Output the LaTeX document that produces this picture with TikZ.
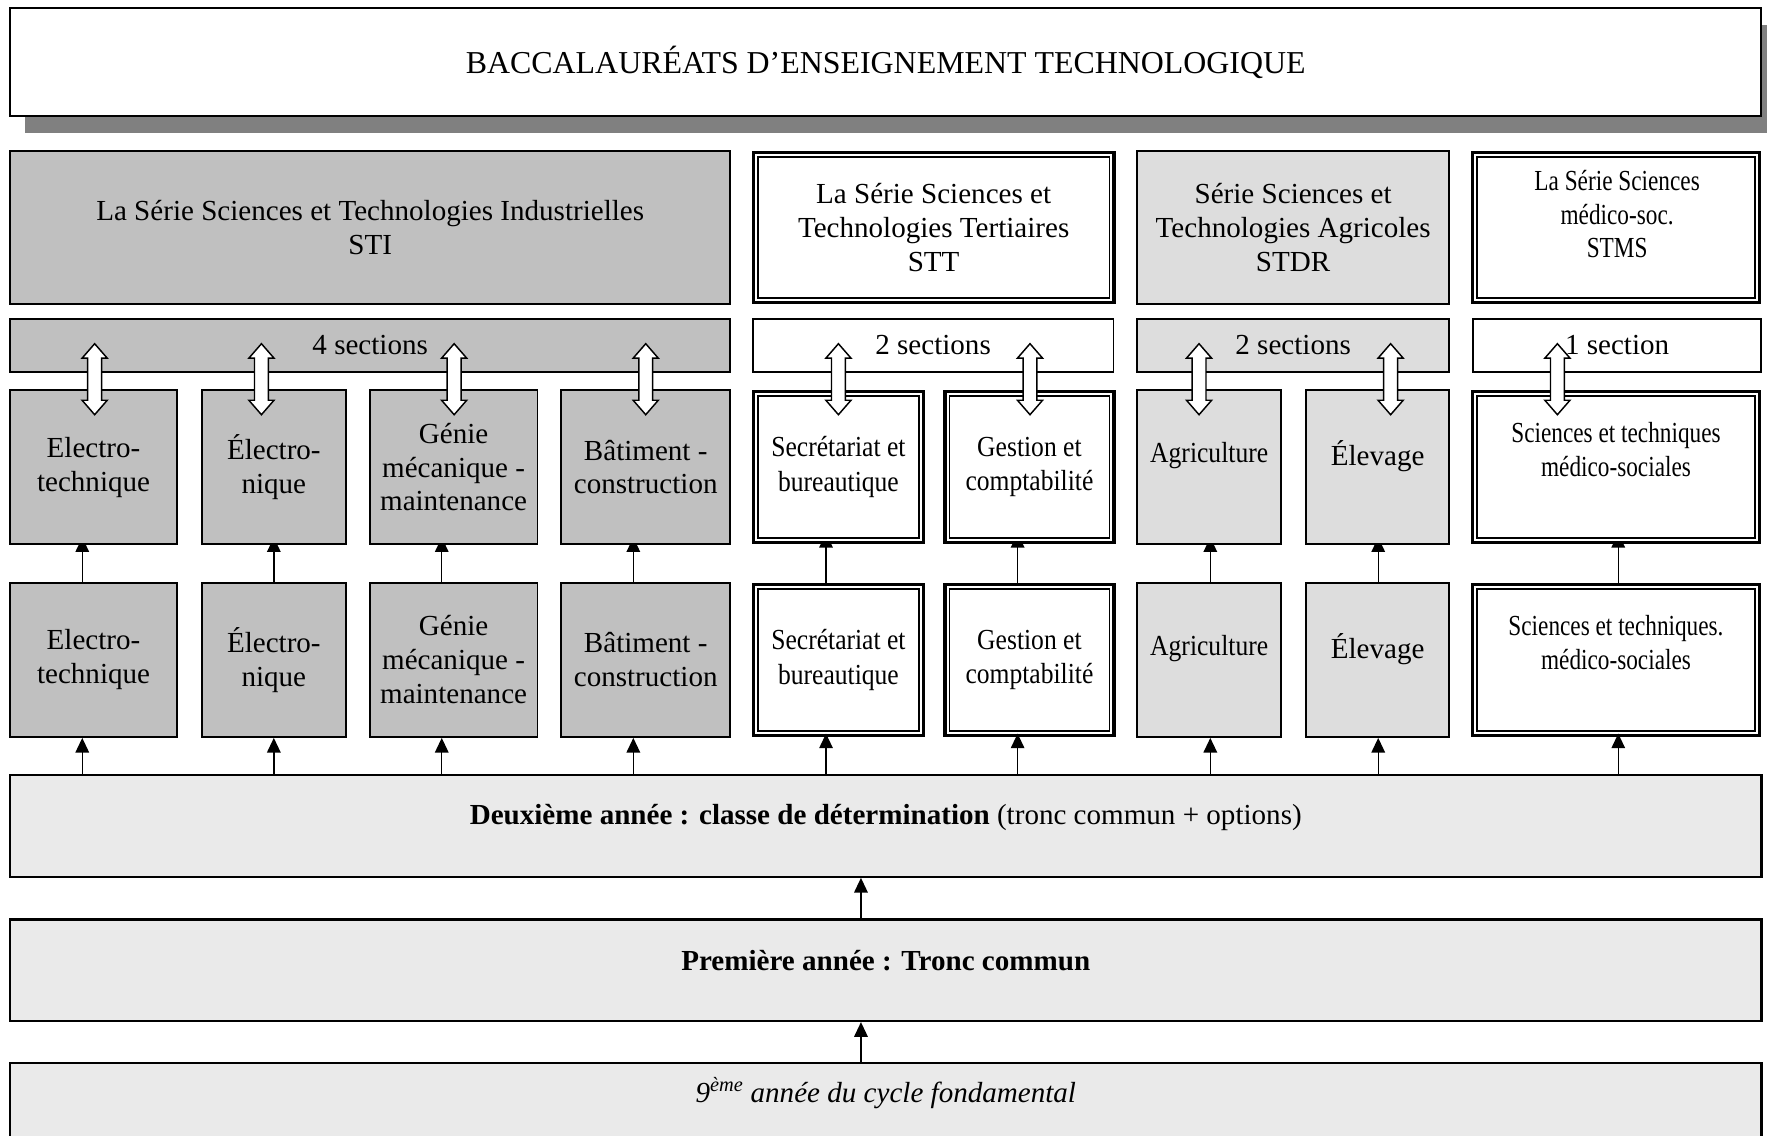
\documentclass[tikz,border=0pt]{standalone}
\usepackage{fontspec}
\setmainfont{Liberation Serif}
\newfontfamily\narrowA[FakeStretch=0.88]{Liberation Serif}
\newfontfamily\narrowB[FakeStretch=0.8]{Liberation Serif}
\usepackage{tikz}
\usetikzlibrary{calc, arrows.meta, shapes.arrows, shadows, backgrounds}
\definecolor{sti}{HTML}{C0C0C0}
\definecolor{agri}{HTML}{DDDDDD}
\definecolor{tronc}{HTML}{EAEAEA}
\definecolor{ombre}{HTML}{808080}

\begin{document}
\begin{tikzpicture}[
  x=1pt, y=-1pt,
  every node/.style={align=center, inner sep=0pt, font=\fontsize{25.8}{30}\selectfont},
  plain/.style={draw, line width=1.6pt},
  dbl/.style={preaction={draw, line width=7.6pt}, draw, line width=1.5pt,
    double, double distance=1.8pt, fill=white},
  gbox/.style={plain, fill=sti, minimum height=137pt},
  abox/.style={plain, fill=agri, minimum height=137pt},
  wbox/.style={dbl, minimum height=129.4pt},
  year/.style={plain, fill=tronc, line width=2pt, minimum width=1554pt, minimum height=90pt},
  twoway/.style={double arrow, draw, fill=white, line width=1.3pt, rotate=90, inner sep=5.5pt,
    minimum height=63pt, double arrow head extend=5pt, double arrow tip angle=82},
  up/.style={-{Triangle[length=13pt,width=12pt]}, line width=1.3pt}
]
\useasboundingbox (0,0) rectangle (1568,1008);

% title
\node[plain, fill=white, minimum width=1554pt, minimum height=96pt,
  drop shadow={shadow xshift=13pt, shadow yshift=-15pt, fill=ombre, opacity=1},
  font=\fontsize{28.3}{34}\selectfont] (titre) at (786,55)
  {BACCALAURÉATS D’ENSEIGNEMENT TECHNOLOGIQUE};

% the four series
\node[plain, fill=sti, minimum width=639pt, minimum height=136pt] (hsti) at (328.5,202)
  {La Série Sciences et Technologies Industrielles\\STI};
\node[dbl, minimum width=315.4pt, minimum height=128.4pt] (hstt) at (828.5,202)
  {La Série Sciences et\\Technologies Tertiaires\\STT};
\node[plain, fill=agri, minimum width=277pt, minimum height=136pt] (hstdr) at (1147.5,202)
  {Série Sciences et\\Technologies Agricoles\\STDR};
\node[dbl, minimum width=250.4pt, minimum height=128.4pt] (hstms) at (1434,202) {};
\node[font=\narrowB\fontsize{25.8}{30}\selectfont] (thstms) at (1435,190)
  {La Série Sciences\\médico-soc.\\STMS};

% sections
\node[plain, fill=sti, minimum width=639pt, minimum height=47pt] (ssti) at (328.5,306.5) {4 sections};
\node[plain, fill=white, minimum width=320pt, minimum height=47pt] (sstt) at (828,306.5) {2 sections};
\node[plain, fill=agri, minimum width=277pt, minimum height=47pt] (sstdr) at (1147.5,306.5) {2 sections};
\node[plain, fill=white, minimum width=256pt, minimum height=47pt] (sstms) at (1435,306.5) {1 section};

% terminal classes (u) and first classes (l)
\foreach \r/\y/\p in {u/414.5/, l/585.5/.} {
  \node[gbox, minimum width=148pt] (\r1) at (83,\y) {Electro-\\technique};
  \node[gbox, minimum width=128pt] (\r2) at (243,\y) {Électro-\\nique};
  \node[gbox, minimum width=149pt] (\r3) at (402.5,\y) {Génie\\mécanique -\\maintenance};
  \node[gbox, minimum width=150pt] (\r4) at (573,\y) {Bâtiment -\\construction};
  \node[wbox, minimum width=146.4pt, font=\narrowA\fontsize{25.8}{31}\selectfont] (\r5) at (744,\y)
    {Secrétariat et\\bureautique};
  \node[wbox, minimum width=145.4pt, font=\narrowA\fontsize{25.8}{30}\selectfont] (\r6) at (913.5,\y)
    {Gestion et\\comptabilité};
  \node[abox, minimum width=128pt] (\r7) at (1073,\y) {};
  \node[font=\narrowA\fontsize{25.8}{30}\selectfont] (t\r7) at ([yshift=10pt]\r7.center) {Agriculture};
  \node[abox, minimum width=127pt] (\r8) at (1222.5,\y) {};
  \node (t\r8) at ([yshift=9.5pt]\r8.center) {Élevage};
  \node[wbox, minimum width=250.4pt] (\r9) at (1434,\y) {};
  \node[font=\narrowB\fontsize{25.8}{30}\selectfont] (t\r9) at ([yshift=15.5pt]\r9.center)
    {Sciences et techniques\p\\médico-sociales};
}

% common years
\node[year] (d2) at (786,733) {};
\node (td2) at (786,725) {\textbf{Deuxième année : classe de détermination} (tronc commun + options)};
\node[year] (p1) at (786,861) {};
\node (tp1) at (786,852) {\textbf{Première année : Tronc commun}};
\node[year] (n9) at (786,988) {};
\node (tn9) at (786,970) {\textit{9\textsuperscript{ème} année du cycle fondamental}};

% links
\foreach \i/\dx in {1/-10,2/0,3/-10.5,4/-11,5/-11,6/-10.5,7/1,8/0.5,9/2} {
  \begin{scope}[on background layer]
    \draw[up, shorten >=-7pt] ([xshift=\dx pt]l\i.north) -- ([xshift=\dx pt]u\i.south);
  \end{scope}
  \draw[up] ([xshift=\dx pt]l\i.south |- d2.north) -- ([xshift=\dx pt]l\i.south);
}
\draw[up] ([xshift=-22pt]p1.north) -- ([xshift=-22pt]d2.south);
\draw[up] ([xshift=-22pt]n9.north) -- ([xshift=-22pt]p1.south);

% section arrows
\node[twoway] (w1) at (84,336.5) {};
\node[twoway] (w2) at (232,336.5) {};
\node[twoway] (w3) at (403,336.5) {};
\node[twoway] (w4) at (573,336.5) {};
\node[twoway] (w5) at (744,336.5) {};
\node[twoway] (w6) at (914,336.5) {};
\node[twoway] (w7) at (1064,336.5) {};
\node[twoway] (w8) at (1234,336.5) {};
\node[twoway] (w9) at (1382,336.5) {};
\end{tikzpicture}
\end{document}
